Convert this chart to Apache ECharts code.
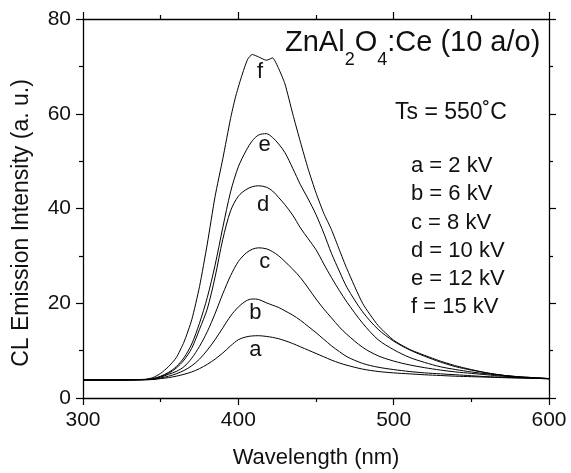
<!DOCTYPE html>
<html><head><meta charset="utf-8">
<script src="https://cdn.jsdelivr.net/npm/echarts@6/dist/echarts.min.js"></script>
<style>html,body{margin:0;padding:0;background:#fff}#c{width:571px;height:473px}</style>
</head><body><div id="c"></div>
<script>
// ---- data ----
const wavelengths = [300,320,340,345,350,355,360,365,370,375,380,385,390,395,400,405,409,413,418,422,426,430,435,440,445,450,455,460,465,470,480,490,500,510,520,530,540,550,560,570,580,590,600];
const seriesA = [3.8,3.8,3.85,3.9,4.1,4.3,4.6,5.0,5.5,6.2,7.1,8.2,9.5,11.0,12.3,12.9,13.1,13.15,13.0,12.8,12.5,12.1,11.5,10.8,10.1,9.4,8.7,8.0,7.4,6.9,6.1,5.6,5.3,5.1,4.9,4.75,4.6,4.5,4.4,4.3,4.2,4.15,4.1];
const seriesB = [3.8,3.8,3.85,3.95,4.2,4.6,5.1,5.8,6.8,8.2,10.1,12.3,14.8,17.3,19.2,20.5,20.9,20.8,20.1,19.6,19.1,18.4,17.5,16.4,15.1,13.8,12.4,11.0,9.8,8.7,7.3,6.5,6.0,5.6,5.3,5.1,4.9,4.7,4.5,4.4,4.3,4.2,4.1];
const seriesC = [3.8,3.8,3.9,4.0,4.4,5.0,5.6,6.6,8.4,10.9,14.0,17.8,22.0,25.8,28.8,30.6,31.4,31.7,31.5,30.9,30.0,28.8,27.2,25.4,23.2,20.9,18.8,16.9,15.0,13.4,10.7,8.9,7.8,7.0,6.4,5.9,5.5,5.2,4.9,4.6,4.4,4.2,4.1];
const seriesD = [3.8,3.8,3.9,4.05,4.5,5.2,6.3,8.0,10.5,14.5,18.8,25.5,33.5,39.5,42.6,44.0,44.6,44.8,44.5,43.7,42.3,40.8,38.6,35.9,33.6,31.3,28.3,25.4,22.7,20.2,15.8,12.3,10.2,8.6,7.5,6.6,6.0,5.5,5.1,4.8,4.5,4.3,4.1];
const seriesE = [3.8,3.8,3.9,4.1,4.6,5.4,6.6,8.5,11.4,15.8,21.2,28.0,36.0,43.5,48.8,52.2,54.3,55.5,55.8,55.0,53.6,51.8,48.5,45.0,42.0,38.7,34.8,30.5,26.8,23.3,18.2,14.5,12.0,10.2,8.8,7.6,6.6,5.9,5.3,4.8,4.5,4.3,4.1];
const wavelengthsF = [300,320,340,345,350,355,360,365,370,375,380,385,390,395,398,402,406,409,413,418,420,422,426,430,435,440,445,450,455,460,465,470,480,490,500,510,520,530,540,550,560,570,580,590,600];
const seriesF = [3.8,3.8,3.95,4.3,5.2,6.6,8.5,11.8,16.5,23.5,32.5,42.5,50.5,59.0,63.3,67.8,71.5,72.5,72.0,71.3,71.5,71.8,69.5,66.3,60.0,54.0,48.3,43.3,39.0,35.5,31.3,27.2,20.0,15.3,12.2,10.3,9.0,7.8,6.8,6.0,5.3,4.8,4.4,4.2,4.0];
const curveLetters = ['a','b','c','d','e','f'];
const letterX = [411,411,417,416,417,414];
const letterY = [10.1,17.9,28.8,40.7,53.4,68.9];
const voltageLines = ['a = 2 kV','b = 6 kV','c = 8 kV','d = 10 kV','e = 12 kV','f = 15 kV'];
const xTicks = {min:300, max:600, interval:100};
const yTicks = {min:0, max:80, interval:20};

// ---- chart ----
const FONT = '"Liberation Sans", Arial, Helvetica, sans-serif';
const TXT = '#111';
const chart = echarts.init(document.getElementById('c'), null, {renderer:'canvas'});

function zip(xs, ys){ return xs.map((x,i)=>[x, ys[i]]); }

function axisBase(t){
  return {
    type:'value', min:t.min, max:t.max, interval:t.interval,
    axisLine:{show:true, onZero:false, lineStyle:{color:'#000', width:1.3}},
    axisTick:{show:true, inside:false, length:7, lineStyle:{color:'#000', width:1.2}},
    minorTick:{show:true, splitNumber:2, length:4, lineStyle:{color:'#000', width:1.2}},
    splitLine:{show:false}, minorSplitLine:{show:false}
  };
}
const lineSeries = [seriesA, seriesB, seriesC, seriesD, seriesE].map(v => ({
  type:'line', data: zip(wavelengths, v), showSymbol:false, symbol:'none', smooth:0.3,
  lineStyle:{color:'#000', width:1}, silent:true, z:3
}));
lineSeries.push({
  type:'line', data: zip(wavelengthsF, seriesF), showSymbol:false, symbol:'none', smooth:0.2,
  lineStyle:{color:'#000', width:1}, silent:true, z:3
});

const option = {
  animation:false,
  backgroundColor:'#fff',
  grid:{left:83, right:22, top:19, bottom:75, containLabel:false, outerBoundsMode:'none'},
  xAxis:[
    Object.assign(axisBase(xTicks), {position:'bottom',
      axisLabel:{fontSize:21, color:TXT, fontFamily:FONT, margin:12},
      name:'Wavelength (nm)', nameLocation:'middle', nameGap:49,
      nameTextStyle:{fontSize:22, color:TXT, fontFamily:FONT}}),
    Object.assign(axisBase(xTicks), {position:'top', axisLabel:{show:false}})
  ],
  yAxis:[
    Object.assign(axisBase(yTicks), {position:'left',
      axisLabel:{fontSize:21, color:TXT, fontFamily:FONT, margin:12}}),
    Object.assign(axisBase(yTicks), {position:'right', axisLabel:{show:false}})
  ],
  series: lineSeries.concat([{
    type:'scatter', symbol:'circle', symbolSize:1, itemStyle:{color:'rgba(0,0,0,0)'}, silent:true, z:4,
    data: curveLetters.map((l,i)=>[letterX[i], letterY[i], l]),
    label:{show:true, position:'inside', formatter:p=>p.data[2], fontSize:22, color:TXT, fontFamily:FONT,
      textBorderWidth:0, textBorderColor:'transparent', opacity:1}
  }]),
  graphic:[
    {type:'text', left:285, top:27, silent:true,
      style:{text:'{n|ZnAl}{s|2}{n|O}{s|4}{n|:Ce (10 a/o)}', fill:TXT,
        rich:{
          n:{fontSize:29, fontFamily:FONT, lineHeight:32, padding:[0,0,10,0], fill:TXT},
          s:{fontSize:18, fontFamily:FONT, lineHeight:18, padding:[24,0,0,0], fill:TXT}
        }}},
    {type:'text', x:395, y:112.5, silent:true,
      style:{text:'Ts = 550\u02DAC', font:'23px '+FONT, fill:TXT, textAlign:'left', textVerticalAlign:'middle', align:'left', verticalAlign:'middle'}},
    {type:'text', x:411, y:152, silent:true,
      style:{text:voltageLines.join('\n'), font:'22px '+FONT, lineHeight:28.2, fill:TXT, textAlign:'left', textVerticalAlign:'top', align:'left', verticalAlign:'top'}},
    {type:'text', x:21.5, y:223, rotation:Math.PI/2, silent:true,
      style:{text:'CL Emission Intensity (a. u.)', font:'23px '+FONT, fill:TXT, textAlign:'center', textVerticalAlign:'middle', align:'center', verticalAlign:'middle'}}
  ]
};
chart.setOption(option);
</script>
</body></html>
